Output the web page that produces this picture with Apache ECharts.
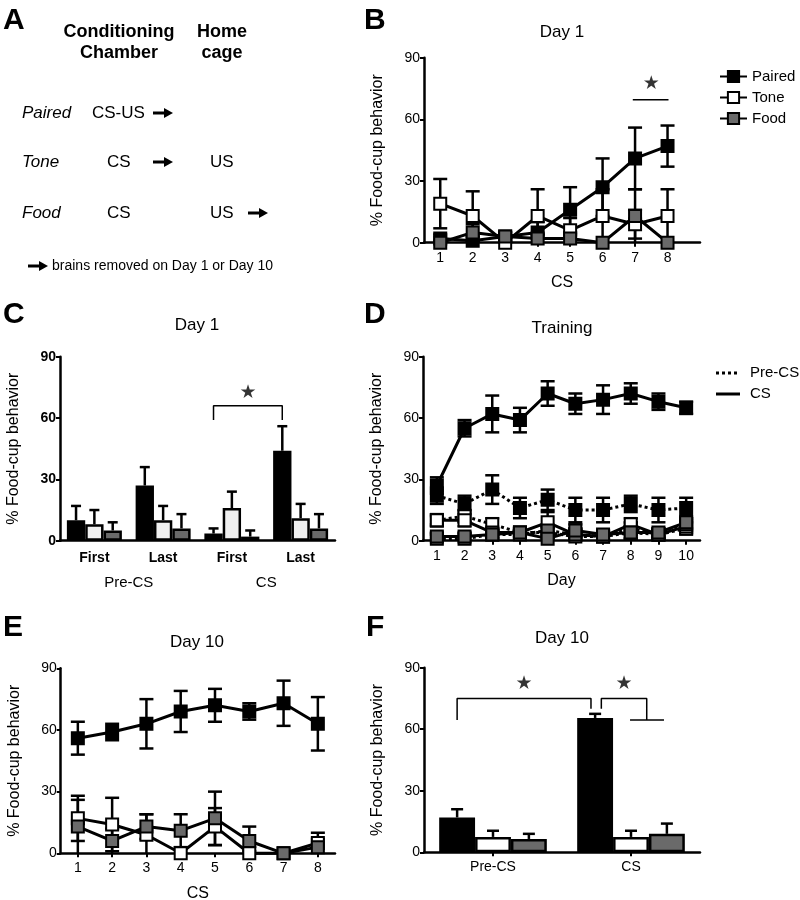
<!DOCTYPE html>
<html><head><meta charset="utf-8">
<script src="https://cdn.jsdelivr.net/npm/echarts@6/dist/echarts.min.js"></script>
<style>html,body{margin:0;padding:0;background:#fff}#c{width:800px;height:900px}</style>
</head><body><div id="c"></div>
<script>
// ---------- DATA ----------
// Panel B: Day 1, per CS trial
const bCS = [1, 2, 3, 4, 5, 6, 7, 8];
const bPaired = [2, 1, 3, 5, 16, 27, 41, 47];
const bPairedSem = [2, 2, 2, 5, 11, 14, 15, 10];
const bTone = [19, 13, 0, 13, 6, 13, 9, 13];
const bToneSem = [12, 12, 2, 13, 6, 13, 7, 13];
const bFood = [0, 5, 3, 2, 2, 0, 13, 0];
const bFoodSem = [1, 4, 2, 2, 2, 0, 13, 0];

// Panel C: Day 1, first / last trials
const cCats = ['First', 'Last', 'First', 'Last'];
const cGroups = ['Pre-CS', 'CS'];
const cPaired = [10, 27, 3.5, 44];
const cPairedErr = [7, 9, 2.5, 12];
const cTone = [8, 10, 16, 11];
const cToneErr = [7, 7, 8, 7];
const cFood = [5, 6, 2, 6];
const cFoodErr = [4, 7, 3, 7];

// Panel D: Training days
const dDays = [1, 2, 3, 4, 5, 6, 7, 8, 9, 10];
const dPairedCS = [27, 55, 62, 59, 72, 67, 69, 72, 68, 65];
const dPairedCSSem = [4, 4, 9, 6, 6, 5, 7, 5, 4, 3];
const dPairedPre = [22, 18, 25, 16, 20, 15, 15, 18, 15, 16];
const dPairedPreSem = [4, 4, 7, 5, 5, 6, 6, 4, 6, 5];
const dTonePre = [10, 12, 8, 4, 4, 2, 2, 6, 3, 6];
const dTonePreSem = [3, 3, 3, 2, 3, 2, 2, 3, 2, 3];
const dToneCS = [10, 10, 4, 4, 9, 3, 2, 8, 3, 7];
const dToneCSSem = [2, 3, 2, 2, 5, 2, 2, 3, 2, 3];
const dFoodPre = [1, 1, 3, 3, 5, 3, 2, 4, 3, 8];
const dFoodPreSem = [2, 2, 2, 2, 2, 3, 2, 3, 2, 3];
const dFoodCS = [2, 2, 3, 4, 1, 5, 3, 4, 4, 9];
const dFoodCSSem = [2, 2, 2, 2, 2, 3, 2, 3, 2, 3];
const dLegend = ['Pre-CS', 'CS'];

// Panel E: Day 10, per CS trial
const eCS = [1, 2, 3, 4, 5, 6, 7, 8];
const ePaired = [56, 59, 63, 69, 72, 69, 73, 63];
const ePairedSem = [8, 4, 12, 10, 8, 4, 11, 13];
const eTone = [17, 14, 9, 0, 13, 0, 0, 5];
const eToneSem = [11, 13, 10, 0, 9, 1, 0, 5];
const eFood = [13, 6, 13, 11, 17, 6, 0, 3];
const eFoodSem = [13, 6, 6, 8, 13, 7, 0, 4];

// Panel F: Day 10, Pre-CS vs CS
const fCats = ['Pre-CS', 'CS'];
const fPaired = [17, 65.5];
const fPairedErr = [4, 2];
const fTone = [7.5, 7.5];
const fToneErr = [3, 3];
const fFood = [6.5, 9];
const fFoodErr = [2.5, 5];

// ---------- STYLE ----------
const K = '#000', GRAY = '#6a6a6a', LIGHT = '#f0f0f0', WHITE = '#fff';
const FF = 'Liberation Sans, Arial, Helvetica, sans-serif';

const chart = echarts.init(document.getElementById('c'), null, {renderer: 'canvas', width: 800, height: 900});

function grid(l, t, r, b) {
  return {left: l, top: t, width: r - l, height: b - t, containLabel: false, outerBoundsMode: 'none'};
}
function yAx(g, bold) {
  return {type: 'value', gridIndex: g, min: 0, max: 90, interval: 30,
    axisLine: {show: true, lineStyle: {color: K, width: 2.5}},
    axisTick: {show: true, length: 4, lineStyle: {color: K, width: 2}},
    axisLabel: {color: K, fontSize: 14, fontFamily: FF, fontWeight: bold ? 'bold' : 'normal', margin: 4},
    splitLine: {show: false},
    name: '% Food-cup behavior', nameLocation: 'middle', nameGap: 38,
    nameTextStyle: {color: K, fontSize: 16, fontFamily: FF}};
}
function xVal(g, min, max, ticks, name) {
  return {type: 'value', gridIndex: g, min: min, max: max,
    axisLine: {show: true, onZero: false, lineStyle: {color: K, width: 2.5}},
    axisTick: {show: true, length: 4, customValues: ticks, lineStyle: {color: K, width: 2}},
    axisLabel: {color: K, fontSize: 14, fontFamily: FF, margin: 8, customValues: ticks},
    splitLine: {show: false},
    name: name, nameLocation: 'middle', nameGap: 32,
    nameTextStyle: {color: K, fontSize: 16, fontFamily: FF}};
}
function xHidden(g, min, max) {
  return {type: 'value', gridIndex: g, min: min, max: max, show: false, position: 'top'};
}

function lineS(name, xi, yi, xs, ys, fill, dash) {
  return {type: 'line', name: name, xAxisIndex: xi, yAxisIndex: yi,
    data: xs.map((x, i) => [x, ys[i]]),
    symbol: 'rect', symbolSize: 12, showAllSymbol: true,
    itemStyle: {color: fill, borderColor: K, borderWidth: 2},
    lineStyle: {color: K, width: 3, type: dash || 'solid'},
    animation: false, silent: true, clip: false};
}
function errS(xi, yi, xs, ys, es, cap) {
  return {type: 'custom', xAxisIndex: xi, yAxisIndex: yi, silent: true, animation: false, clip: false,
    data: xs.map((x, i) => [x, ys[i], es[i]]),
    renderItem: function (p, api) {
      const x = api.value(0), y = api.value(1), e = api.value(2);
      if (!e) return null;
      const lo = Math.max(0, y - e), hi = y + e;
      const a = api.coord([x, hi]), b = api.coord([x, lo]);
      const st = {stroke: K, lineWidth: 2.5};
      const ch = [
        {type: 'line', shape: {x1: a[0], y1: a[1], x2: b[0], y2: b[1]}, style: st},
        {type: 'line', shape: {x1: a[0] - cap, y1: a[1], x2: a[0] + cap, y2: a[1]}, style: st}];
      if (lo > 0) ch.push({type: 'line', shape: {x1: b[0] - cap, y1: b[1], x2: b[0] + cap, y2: b[1]}, style: st});
      return {type: 'group', children: ch};
    }};
}
function barS(name, xi, yi, ys, fill, gap) {
  return {type: 'bar', name: name, xAxisIndex: xi, yAxisIndex: yi, data: ys,
    barGap: '0%', barCategoryGap: gap,
    itemStyle: {color: fill, borderColor: K, borderWidth: 2.5},
    animation: false, silent: true};
}
function barErrS(xi, yi, ys, es, slot, gapFrac, cap) {
  return {type: 'custom', xAxisIndex: xi, yAxisIndex: yi, silent: true, animation: false, clip: false,
    data: ys.map((y, i) => [i, y, es[i]]),
    renderItem: function (p, api) {
      const i = api.value(0), y = api.value(1), e = api.value(2);
      const band = api.size([1, 0])[0];
      const bw = band * (1 - gapFrac) / 3;
      const c = api.coord([i, y]), t = api.coord([i, y + e]);
      const x = c[0] + (slot - 1) * bw;
      const st = {stroke: K, lineWidth: 2.5};
      return {type: 'group', children: [
        {type: 'line', shape: {x1: x, y1: c[1], x2: x, y2: t[1]}, style: st},
        {type: 'line', shape: {x1: x - cap, y1: t[1], x2: x + cap, y2: t[1]}, style: st}]};
    }};
}
function bracketS(xi, yi, pts) {
  return {type: 'line', xAxisIndex: xi, yAxisIndex: yi, data: pts, symbol: 'none',
    lineStyle: {color: K, width: 1.5}, animation: false, silent: true, clip: false, z: 5};
}
function starS(xi, yi, pts) {
  return {type: 'scatter', xAxisIndex: xi, yAxisIndex: yi, data: pts, symbolSize: 1,
    itemStyle: {color: 'rgba(0,0,0,0)'}, silent: true, animation: false,
    label: {show: true, formatter: '\u2605', position: 'inside', color: K, fontSize: 19, fontFamily: 'DejaVu Sans'}};
}

// ---------- AXES ----------
const grids = [
  grid(424, 57.7, 700, 242.7),   // B
  grid(60, 356.7, 335, 540.7),   // C
  grid(423, 356.7, 700, 540.7),  // D
  grid(60.7, 668.3, 335, 853.3), // E
  grid(424, 667.7, 700, 852.3)   // F
];
const xAxes = [
  xVal(0, 0.5, 9, bCS, 'CS'),                                   // 0 B
  {type: 'category', gridIndex: 1, data: cCats, position: 'bottom',
    axisLine: {show: true, lineStyle: {color: K, width: 2.5}}, axisTick: {show: false},
    axisLabel: {color: K, fontSize: 14, fontWeight: 'bold', fontFamily: FF, margin: 10}},  // 1 C
  {type: 'category', gridIndex: 1, data: cGroups, position: 'bottom',
    axisLine: {show: false}, axisTick: {show: false},
    axisLabel: {color: K, fontSize: 15, fontFamily: FF, margin: 35}},                    // 2 C groups
  xHidden(1, 0, 4),                                              // 3 C annotations
  xVal(2, 0.5, 10.5, dDays, 'Day'),                              // 4 D
  xVal(3, 0.5, 8.5, eCS, 'CS'),                                  // 5 E
  {type: 'category', gridIndex: 4, data: fCats, position: 'bottom',
    axisLine: {show: true, lineStyle: {color: K, width: 2.5}},
    axisTick: {show: true, alignWithLabel: true, length: 4, lineStyle: {color: K, width: 2}},
    axisLabel: {color: K, fontSize: 14, fontFamily: FF, margin: 8}},                    // 6 F
  xHidden(4, 0, 2)                                               // 7 F annotations
];
const yAxes = [yAx(0, false), yAx(1, true), yAx(2, false), yAx(3, false), yAx(4, false)];

// ---------- SERIES ----------
const series = [
  // B
  errS(0, 0, bCS, bPaired, bPairedSem, 7), lineS('Paired', 0, 0, bCS, bPaired, K),
  errS(0, 0, bCS, bTone, bToneSem, 7), lineS('Tone', 0, 0, bCS, bTone, WHITE),
  errS(0, 0, bCS, bFood, bFoodSem, 7), lineS('Food', 0, 0, bCS, bFood, GRAY),
  bracketS(0, 0, [[6.93, 69.5], [8.03, 69.5]]), starS(0, 0, [[7.5, 77]]),
  // C
  barS('C Paired', 1, 1, cPaired, K, '20%'), barS('C Tone', 1, 1, cTone, LIGHT, '20%'), barS('C Food', 1, 1, cFood, GRAY, '20%'),
  barErrS(1, 1, cPaired, cPairedErr, 0, 0.2, 5), barErrS(1, 1, cTone, cToneErr, 1, 0.2, 5), barErrS(1, 1, cFood, cFoodErr, 2, 0.2, 5),
  bracketS(3, 1, [[2.233, 59], [2.233, 66], [3.233, 66], [3.233, 59]]), starS(3, 1, [[2.733, 72]]),
  // D
  errS(4, 2, dDays, dPairedPre, dPairedPreSem, 7), lineS('D Paired Pre', 4, 2, dDays, dPairedPre, K, 'dotted'),
  errS(4, 2, dDays, dPairedCS, dPairedCSSem, 7), lineS('D Paired CS', 4, 2, dDays, dPairedCS, K),
  errS(4, 2, dDays, dTonePre, dTonePreSem, 7), lineS('D Tone Pre', 4, 2, dDays, dTonePre, WHITE, 'dotted'),
  errS(4, 2, dDays, dToneCS, dToneCSSem, 7), lineS('D Tone CS', 4, 2, dDays, dToneCS, WHITE),
  errS(4, 2, dDays, dFoodPre, dFoodPreSem, 7), lineS('D Food Pre', 4, 2, dDays, dFoodPre, GRAY, 'dotted'),
  errS(4, 2, dDays, dFoodCS, dFoodCSSem, 7), lineS('D Food CS', 4, 2, dDays, dFoodCS, GRAY),
  // E
  errS(5, 3, eCS, ePaired, ePairedSem, 7), lineS('E Paired', 5, 3, eCS, ePaired, K),
  errS(5, 3, eCS, eTone, eToneSem, 7), lineS('E Tone', 5, 3, eCS, eTone, WHITE),
  errS(5, 3, eCS, eFood, eFoodSem, 7), lineS('E Food', 5, 3, eCS, eFood, GRAY),
  // F
  barS('F Paired', 6, 4, fPaired, K, '22%'), barS('F Tone', 6, 4, fTone, WHITE, '22%'), barS('F Food', 6, 4, fFood, GRAY, '22%'),
  barErrS(6, 4, fPaired, fPairedErr, 0, 0.22, 6), barErrS(6, 4, fTone, fToneErr, 1, 0.22, 6), barErrS(6, 4, fFood, fFoodErr, 2, 0.22, 6),
  bracketS(7, 4, [[0.24, 64.5], [0.24, 75], [1.21, 75], [1.21, 70]]),
  bracketS(7, 4, [[1.285, 70], [1.285, 75], [1.614, 75], [1.614, 64.5]]),
  bracketS(7, 4, [[1.493, 64.5], [1.739, 64.5]]),
  starS(7, 4, [[0.725, 82], [1.449, 82]])
];

// ---------- TEXT / DIAGRAM ----------
function txt(x, y, s, size, opts) {
  opts = opts || {};
  return {type: 'text', x: x, y: y, silent: true, style: {text: s, fill: K, fontSize: size, fontFamily: FF,
    fontWeight: opts.w || 'normal', fontStyle: opts.i ? 'italic' : 'normal',
    align: opts.a || 'left', verticalAlign: 'middle'}};
}
function arrow(x, y) {
  return {type: 'group', x: x, y: y, silent: true, children: [
    {type: 'rect', shape: {x: 0, y: -1.5, width: 13, height: 3}, style: {fill: K}},
    {type: 'polygon', shape: {points: [[11, -5], [20, 0], [11, 5]]}, style: {fill: K}}]};
}
function legLine(x, y, dashed) {
  return {type: 'line', silent: true, shape: {x1: x, y1: y, x2: x + 24, y2: y},
    style: {stroke: K, lineWidth: 3, lineDash: dashed ? [3, 3] : null}};
}
const graphic = [
  txt(3, 21, 'A', 30, {w: 'bold'}), txt(364, 21, 'B', 30, {w: 'bold'}),
  txt(3, 315, 'C', 30, {w: 'bold'}), txt(364, 315, 'D', 30, {w: 'bold'}),
  txt(3, 628, 'E', 30, {w: 'bold'}), txt(366, 628, 'F', 30, {w: 'bold'}),
  txt(119, 32, 'Conditioning', 18, {w: 'bold', a: 'center'}), txt(119, 53, 'Chamber', 18, {w: 'bold', a: 'center'}),
  txt(222, 32, 'Home', 18, {w: 'bold', a: 'center'}), txt(222, 53, 'cage', 18, {w: 'bold', a: 'center'}),
  txt(22, 113, 'Paired', 17, {i: true}), txt(92, 113, 'CS-US', 17), arrow(153, 113),
  txt(22, 162, 'Tone', 17, {i: true}), txt(107, 162, 'CS', 17), arrow(153, 162), txt(210, 162, 'US', 17),
  txt(22, 213, 'Food', 17, {i: true}), txt(107, 213, 'CS', 17), txt(210, 213, 'US', 17), arrow(248, 213),
  arrow(28, 266), txt(52, 266, 'brains removed on Day 1 or Day 10', 14),
  txt(562, 32, 'Day 1', 17, {a: 'center'}),
  txt(197, 325, 'Day 1', 17, {a: 'center'}),
  txt(562, 328, 'Training', 17, {a: 'center'}),
  txt(197, 642, 'Day 10', 17, {a: 'center'}),
  txt(562, 638, 'Day 10', 17, {a: 'center'}),
  // Panel D line-style key
  legLine(716, 373, true), txt(750, 373, dLegend[0], 15),
  legLine(716, 394, false), txt(750, 394, dLegend[1], 15)
];

chart.setOption({
  animation: false,
  backgroundColor: '#fff',
  grid: grids, xAxis: xAxes, yAxis: yAxes, series: series, graphic: graphic,
  legend: [
    {data: ['Paired', 'Tone', 'Food'], left: 714, top: 64, orient: 'vertical', itemWidth: 27, itemHeight: 14, itemGap: 6,
      selectedMode: false, textStyle: {color: K, fontSize: 15, fontFamily: FF}}
  ]
});
</script></body></html>
